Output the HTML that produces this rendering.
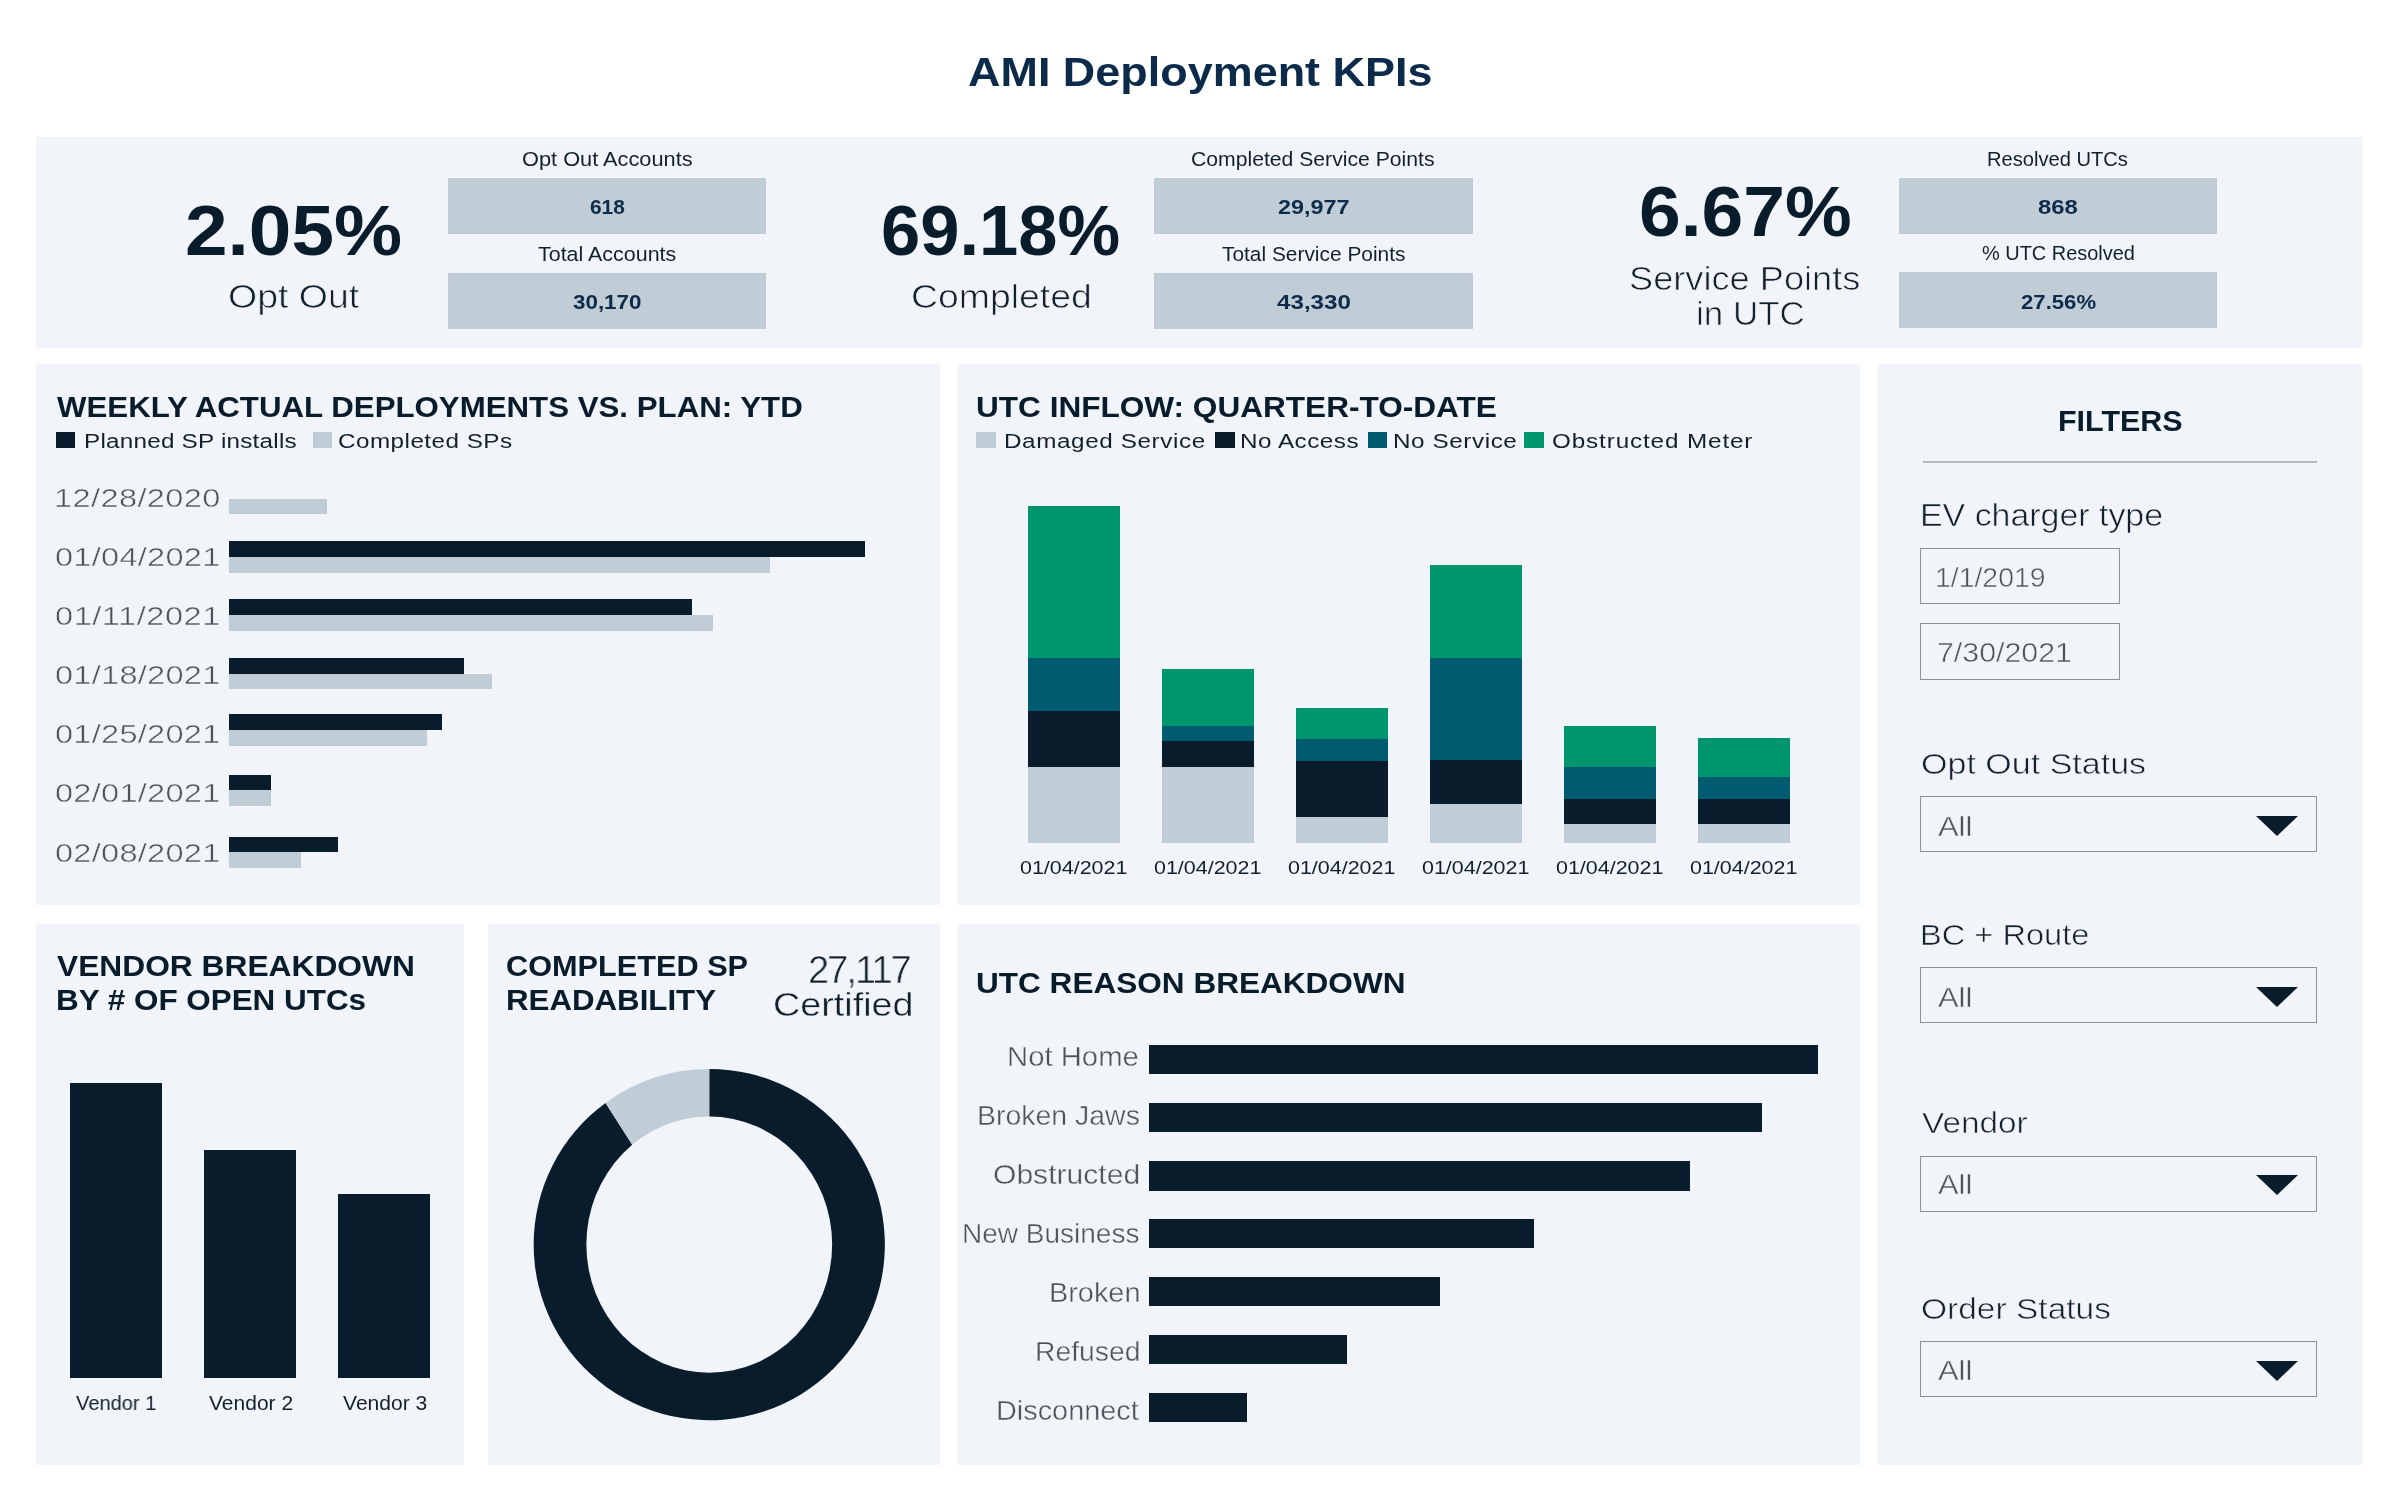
<!DOCTYPE html>
<html lang="en"><head><meta charset="utf-8"><title>AMI Deployment KPIs</title>
<style>
*{margin:0;padding:0;box-sizing:border-box}
html,body{width:2400px;height:1500px;background:#fff;overflow:hidden}
body{position:relative;font-family:"Liberation Sans", Arial, sans-serif;}
.p{position:absolute;background:#f1f4f8;overflow:hidden}
.b{position:absolute;display:block}
.in{border:1.5px solid #8b9399;background:transparent}
.t{position:absolute;white-space:nowrap;line-height:1;transform-origin:0 50%;font-weight:400;will-change:transform}
</style></head>
<body>
<header><h1 class="t" style="left:967.87px;top:53px;font-size:39.86px;color:#0c2a4a;font-weight:700;transform:scaleX(1.1274);">AMI Deployment KPIs</h1></header>
<section class="p" id="kpi" style="left:36px;top:137px;width:2327px;height:211px">
<div class="b" style="left:412px;top:41px;width:318px;height:56px;background:#c0cdd6;"></div>
<div class="b" style="left:412px;top:136px;width:318px;height:56px;background:#c0cdd6;"></div>
<div class="b" style="left:1118px;top:41px;width:319px;height:56px;background:#c0cdd6;"></div>
<div class="b" style="left:1118px;top:136px;width:319px;height:56px;background:#c0cdd6;"></div>
<div class="b" style="left:1863px;top:41px;width:318px;height:56px;background:#c0cdd6;"></div>
<div class="b" style="left:1863px;top:135px;width:318px;height:56px;background:#c0cdd6;"></div>
<span class="t" style="left:148.83px;top:59px;font-size:70.51px;color:#091c2c;font-weight:700;transform:scaleX(1.0855);">2.05%</span>
<span class="t" style="left:191.87px;top:143px;font-size:33.33px;color:#12202d;transform:scaleX(1.125);-webkit-text-stroke:0.7px #f1f4f8;">Opt Out</span>
<span class="t" style="left:485.6px;top:13px;font-size:19.71px;color:#12202d;transform:scaleX(1.1057);">Opt Out Accounts</span>
<span class="t" style="left:554px;top:60px;font-size:20.58px;color:#0d2b4a;font-weight:700;transform:scaleX(1.0148);">618</span>
<span class="t" style="left:502px;top:108px;font-size:19.71px;color:#12202d;transform:scaleX(1.0888);">Total Accounts</span>
<span class="t" style="left:537px;top:155px;font-size:20.58px;color:#0d2b4a;font-weight:700;transform:scaleX(1.0879);">30,170</span>
<span class="t" style="left:845px;top:59px;font-size:70.51px;color:#091c2c;font-weight:700;">69.18%</span>
<span class="t" style="left:874.88px;top:143px;font-size:33.33px;color:#12202d;transform:scaleX(1.122);-webkit-text-stroke:0.7px #f1f4f8;">Completed</span>
<span class="t" style="left:1155.32px;top:13px;font-size:19.71px;color:#12202d;transform:scaleX(1.075);">Completed Service Points</span>
<span class="t" style="left:1242px;top:60px;font-size:20.58px;color:#0d2b4a;font-weight:700;transform:scaleX(1.1358);">29,977</span>
<span class="t" style="left:1186px;top:108px;font-size:19.71px;color:#12202d;transform:scaleX(1.061);">Total Service Points</span>
<span class="t" style="left:1241px;top:155px;font-size:20.58px;color:#0d2b4a;font-weight:700;transform:scaleX(1.1742);">43,330</span>
<span class="t" style="left:1602.86px;top:40px;font-size:70.22px;color:#091c2c;font-weight:700;transform:scaleX(1.0681);">6.67%</span>
<span class="t" style="left:1593.31px;top:125px;font-size:33.33px;color:#12202d;transform:scaleX(1.0863);-webkit-text-stroke:0.7px #f1f4f8;">Service Points</span>
<span class="t" style="left:1659.9px;top:160px;font-size:33.33px;color:#12202d;transform:scaleX(1.0493);-webkit-text-stroke:0.7px #f1f4f8;">in UTC</span>
<span class="t" style="left:1950.98px;top:13px;font-size:19.71px;color:#12202d;transform:scaleX(1.0218);">Resolved UTCs</span>
<span class="t" style="left:2002.4px;top:60px;font-size:20.58px;color:#0d2b4a;font-weight:700;transform:scaleX(1.1564);">868</span>
<span class="t" style="left:1946px;top:107px;font-size:19.71px;color:#12202d;transform:scaleX(1.0131);">% UTC Resolved</span>
<span class="t" style="left:1984.6px;top:155px;font-size:20.58px;color:#0d2b4a;font-weight:700;transform:scaleX(1.0763);">27.56%</span>
</section>
<section class="p" id="weekly" style="left:36px;top:364px;width:904px;height:541px">
<div class="b" style="left:20px;top:68px;width:19px;height:16px;background:#091c2c;"></div>
<div class="b" style="left:277px;top:68px;width:19px;height:16px;background:#c0cdd6;"></div>
<div class="b" style="left:193px;top:135px;width:98px;height:15px;background:#c0cdd6;"></div>
<div class="b" style="left:193px;top:193px;width:541px;height:16px;background:#c0cdd6;"></div>
<div class="b" style="left:193px;top:177px;width:636px;height:16px;background:#091c2c;"></div>
<div class="b" style="left:193px;top:251px;width:484px;height:16px;background:#c0cdd6;"></div>
<div class="b" style="left:193px;top:235px;width:463px;height:16px;background:#091c2c;"></div>
<div class="b" style="left:193px;top:310px;width:263px;height:15px;background:#c0cdd6;"></div>
<div class="b" style="left:193px;top:294px;width:235px;height:16px;background:#091c2c;"></div>
<div class="b" style="left:193px;top:366px;width:198px;height:16px;background:#c0cdd6;"></div>
<div class="b" style="left:193px;top:350px;width:213px;height:16px;background:#091c2c;"></div>
<div class="b" style="left:193px;top:426px;width:42px;height:16px;background:#c0cdd6;"></div>
<div class="b" style="left:193px;top:411px;width:42px;height:15px;background:#091c2c;"></div>
<div class="b" style="left:193px;top:488px;width:72px;height:16px;background:#c0cdd6;"></div>
<div class="b" style="left:193px;top:473px;width:109px;height:15px;background:#091c2c;"></div>
<h2 class="t" style="left:21px;top:28px;font-size:29.57px;color:#091c2c;font-weight:700;transform:scaleX(1.0567);">WEEKLY ACTUAL DEPLOYMENTS VS. PLAN: YTD</h2>
<span class="t" style="left:47.83px;top:67px;font-size:20.72px;color:#12202d;letter-spacing:0.2px;transform:scaleX(1.17);">Planned SP installs</span>
<span class="t" style="left:302.43px;top:67px;font-size:20.72px;color:#12202d;letter-spacing:0.4px;transform:scaleX(1.17);">Completed SPs</span>
<span class="t" style="left:17.56px;top:121px;font-size:26.69px;color:#4d5359;letter-spacing:0.32px;transform:scaleX(1.22);-webkit-text-stroke:0.5px #f1f4f8;">12/28/2020</span>
<span class="t" style="left:18.78px;top:180px;font-size:26.69px;color:#4d5359;letter-spacing:0.21px;transform:scaleX(1.22);-webkit-text-stroke:0.5px #f1f4f8;">01/04/2021</span>
<span class="t" style="left:18.78px;top:239px;font-size:26.69px;color:#4d5359;letter-spacing:0.43px;transform:scaleX(1.22);-webkit-text-stroke:0.5px #f1f4f8;">01/11/2021</span>
<span class="t" style="left:18.78px;top:298px;font-size:26.69px;color:#4d5359;letter-spacing:0.21px;transform:scaleX(1.22);-webkit-text-stroke:0.5px #f1f4f8;">01/18/2021</span>
<span class="t" style="left:18.78px;top:357px;font-size:26.69px;color:#4d5359;letter-spacing:0.21px;transform:scaleX(1.22);-webkit-text-stroke:0.5px #f1f4f8;">01/25/2021</span>
<span class="t" style="left:18.78px;top:416px;font-size:26.69px;color:#4d5359;letter-spacing:0.21px;transform:scaleX(1.22);-webkit-text-stroke:0.5px #f1f4f8;">02/01/2021</span>
<span class="t" style="left:18.78px;top:476px;font-size:26.69px;color:#4d5359;letter-spacing:0.21px;transform:scaleX(1.22);-webkit-text-stroke:0.5px #f1f4f8;">02/08/2021</span>
</section>
<section class="p" id="inflow" style="left:957px;top:364px;width:903px;height:541px">
<div class="b" style="left:19px;top:68px;width:20px;height:16px;background:#c0cdd6;"></div>
<div class="b" style="left:258px;top:68px;width:20px;height:16px;background:#091c2c;"></div>
<div class="b" style="left:411px;top:68px;width:19px;height:16px;background:#005b70;"></div>
<div class="b" style="left:567px;top:68px;width:20px;height:16px;background:#00966d;"></div>
<div class="b" style="left:71px;top:142px;width:92px;height:152px;background:#00966d;"></div>
<div class="b" style="left:71px;top:294px;width:92px;height:53px;background:#005b70;"></div>
<div class="b" style="left:71px;top:347px;width:92px;height:56px;background:#091c2c;"></div>
<div class="b" style="left:71px;top:403px;width:92px;height:76px;background:#c0cdd6;"></div>
<div class="b" style="left:205px;top:305px;width:92px;height:57px;background:#00966d;"></div>
<div class="b" style="left:205px;top:362px;width:92px;height:15px;background:#005b70;"></div>
<div class="b" style="left:205px;top:377px;width:92px;height:26px;background:#091c2c;"></div>
<div class="b" style="left:205px;top:403px;width:92px;height:76px;background:#c0cdd6;"></div>
<div class="b" style="left:339px;top:344px;width:92px;height:31px;background:#00966d;"></div>
<div class="b" style="left:339px;top:375px;width:92px;height:22px;background:#005b70;"></div>
<div class="b" style="left:339px;top:397px;width:92px;height:56px;background:#091c2c;"></div>
<div class="b" style="left:339px;top:453px;width:92px;height:26px;background:#c0cdd6;"></div>
<div class="b" style="left:473px;top:201px;width:92px;height:93px;background:#00966d;"></div>
<div class="b" style="left:473px;top:294px;width:92px;height:102px;background:#005b70;"></div>
<div class="b" style="left:473px;top:396px;width:92px;height:44px;background:#091c2c;"></div>
<div class="b" style="left:473px;top:440px;width:92px;height:39px;background:#c0cdd6;"></div>
<div class="b" style="left:607px;top:362px;width:92px;height:41px;background:#00966d;"></div>
<div class="b" style="left:607px;top:403px;width:92px;height:32px;background:#005b70;"></div>
<div class="b" style="left:607px;top:435px;width:92px;height:25px;background:#091c2c;"></div>
<div class="b" style="left:607px;top:460px;width:92px;height:19px;background:#c0cdd6;"></div>
<div class="b" style="left:741px;top:374px;width:92px;height:39px;background:#00966d;"></div>
<div class="b" style="left:741px;top:413px;width:92px;height:22px;background:#005b70;"></div>
<div class="b" style="left:741px;top:435px;width:92px;height:25px;background:#091c2c;"></div>
<div class="b" style="left:741px;top:460px;width:92px;height:19px;background:#c0cdd6;"></div>
<h2 class="t" style="left:18.93px;top:28px;font-size:29.57px;color:#091c2c;font-weight:700;transform:scaleX(1.0679);">UTC INFLOW: QUARTER-TO-DATE</h2>
<span class="t" style="left:46.83px;top:67px;font-size:20.72px;color:#12202d;letter-spacing:0.52px;transform:scaleX(1.17);">Damaged Service</span>
<span class="t" style="left:282.83px;top:67px;font-size:20.72px;color:#12202d;letter-spacing:0.43px;transform:scaleX(1.17);">No Access</span>
<span class="t" style="left:435.83px;top:67px;font-size:20.72px;color:#12202d;letter-spacing:0.5px;transform:scaleX(1.17);">No Service</span>
<span class="t" style="left:595.4px;top:67px;font-size:20.72px;color:#12202d;letter-spacing:0.75px;transform:scaleX(1.17);">Obstructed Meter</span>
<span class="t" style="left:63.3px;top:494px;font-size:19.24px;color:#12202d;transform:scaleX(1.1152);">01/04/2021</span>
<span class="t" style="left:197.3px;top:494px;font-size:19.24px;color:#12202d;transform:scaleX(1.1152);">01/04/2021</span>
<span class="t" style="left:331.3px;top:494px;font-size:19.24px;color:#12202d;transform:scaleX(1.1152);">01/04/2021</span>
<span class="t" style="left:465.3px;top:494px;font-size:19.24px;color:#12202d;transform:scaleX(1.1152);">01/04/2021</span>
<span class="t" style="left:599.3px;top:494px;font-size:19.24px;color:#12202d;transform:scaleX(1.1152);">01/04/2021</span>
<span class="t" style="left:733.3px;top:494px;font-size:19.24px;color:#12202d;transform:scaleX(1.1152);">01/04/2021</span>
</section>
<section class="p" id="filters" style="left:1877px;top:364px;width:486px;height:1101px">
<div class="b" style="left:46px;top:97px;width:394px;height:2px;background:#b3bac0;"></div>
<div class="b in" style="left:43px;top:184px;width:200px;height:56px"></div>
<div class="b in" style="left:43px;top:259px;width:200px;height:57px"></div>
<div class="b in" style="left:43px;top:432px;width:397px;height:56px"></div>
<svg class="b" style="left:379px;top:452.4px" width="42" height="20" viewBox="0 0 42 20"><path d="M0 0H42L21 20Z" fill="#091c2c"/></svg>
<div class="b in" style="left:43px;top:603px;width:397px;height:56px"></div>
<svg class="b" style="left:379px;top:622.8px" width="42" height="20" viewBox="0 0 42 20"><path d="M0 0H42L21 20Z" fill="#091c2c"/></svg>
<div class="b in" style="left:43px;top:792px;width:397px;height:56px"></div>
<svg class="b" style="left:379px;top:810.8px" width="42" height="20" viewBox="0 0 42 20"><path d="M0 0H42L21 20Z" fill="#091c2c"/></svg>
<div class="b in" style="left:43px;top:977px;width:397px;height:56px"></div>
<svg class="b" style="left:379px;top:997.0px" width="42" height="20" viewBox="0 0 42 20"><path d="M0 0H42L21 20Z" fill="#091c2c"/></svg>
<h2 class="t" style="left:180.77px;top:42px;font-size:29.57px;color:#091c2c;font-weight:700;transform:scaleX(1.0305);">FILTERS</h2>
<span class="t" style="left:43.37px;top:136px;font-size:30.43px;color:#12202d;transform:scaleX(1.1142);-webkit-text-stroke:0.6px #f1f4f8;">EV charger type</span>
<span class="t" style="left:58.21px;top:200px;font-size:27.11px;color:#4d5359;transform:scaleX(1.0473);-webkit-text-stroke:0.5px #f1f4f8;">1/1/2019</span>
<span class="t" style="left:59.88px;top:275px;font-size:27.11px;color:#4d5359;transform:scaleX(1.1187);-webkit-text-stroke:0.5px #f1f4f8;">7/30/2021</span>
<span class="t" style="left:43.87px;top:385px;font-size:30.14px;color:#12202d;transform:scaleX(1.1298);-webkit-text-stroke:0.6px #f1f4f8;">Opt Out Status</span>
<span class="t" style="left:42.84px;top:556px;font-size:30.14px;color:#12202d;transform:scaleX(1.0818);-webkit-text-stroke:0.6px #f1f4f8;">BC + Route</span>
<span class="t" style="left:44.8px;top:744px;font-size:30.14px;color:#12202d;transform:scaleX(1.1063);-webkit-text-stroke:0.6px #f1f4f8;">Vendor</span>
<span class="t" style="left:43.69px;top:930px;font-size:30.14px;color:#12202d;transform:scaleX(1.1125);-webkit-text-stroke:0.6px #f1f4f8;">Order Status</span>
<span class="t" style="left:61.4px;top:448px;font-size:28.41px;color:#4d5359;transform:scaleX(1.087);-webkit-text-stroke:0.4px #f1f4f8;">All</span>
<span class="t" style="left:61.4px;top:619px;font-size:28.41px;color:#4d5359;transform:scaleX(1.087);-webkit-text-stroke:0.4px #f1f4f8;">All</span>
<span class="t" style="left:61.4px;top:806px;font-size:28.41px;color:#4d5359;transform:scaleX(1.087);-webkit-text-stroke:0.4px #f1f4f8;">All</span>
<span class="t" style="left:61.4px;top:992px;font-size:28.41px;color:#4d5359;transform:scaleX(1.087);-webkit-text-stroke:0.4px #f1f4f8;">All</span>
</section>
<section class="p" id="vendor" style="left:36px;top:924px;width:428px;height:541px">
<div class="b" style="left:34px;top:159px;width:92px;height:295px;background:#091c2c;"></div>
<div class="b" style="left:168px;top:226px;width:92px;height:228px;background:#091c2c;"></div>
<div class="b" style="left:302px;top:270px;width:92px;height:184px;background:#091c2c;"></div>
<h2 class="t" style="left:21.4px;top:27px;font-size:29.42px;color:#091c2c;font-weight:700;transform:scaleX(1.0793);">VENDOR BREAKDOWN</h2>
<h2 class="t" style="left:20.33px;top:61px;font-size:29.42px;color:#091c2c;font-weight:700;transform:scaleX(1.0679);">BY # OF OPEN UTCs</h2>
<span class="t" style="left:40.4px;top:469px;font-size:20.29px;color:#12202d;transform:scaleX(0.9886);">Vendor 1</span>
<span class="t" style="left:172.6px;top:469px;font-size:20.29px;color:#12202d;transform:scaleX(1.0355);">Vendor 2</span>
<span class="t" style="left:306.6px;top:469px;font-size:20.29px;color:#12202d;transform:scaleX(1.038);">Vendor 3</span>
</section>
<section class="p" id="donut" style="left:488px;top:924px;width:452px;height:541px">
<svg class="b" style="left:0;top:0" width="452" height="541" viewBox="488 924 452 541"><path d="M709.25 1069.0 A175.6 175.6 0 1 1 605.54 1102.90 L653.17 1177.60 L709.25 1204.6 Z" fill="#091c2c"/><path d="M605.54 1102.90 A175.6 175.6 0 0 1 709.25 1069.0 L709.25 1204.6 L653.17 1177.60 Z" fill="#c0cdd6"/><ellipse cx="709.25" cy="1244.6" rx="122.9" ry="128.1" fill="#f1f4f8"/></svg>
<h2 class="t" style="left:17.56px;top:27px;font-size:29.42px;color:#091c2c;font-weight:700;transform:scaleX(1.0434);">COMPLETED SP</h2>
<h2 class="t" style="left:17.54px;top:61px;font-size:29.42px;color:#091c2c;font-weight:700;transform:scaleX(1.0625);">READABILITY</h2>
<span class="t" style="left:320.03px;top:26px;font-size:39.33px;color:#12202d;letter-spacing:-2.08px;transform:scaleX(0.97);-webkit-text-stroke:0.6px #f1f4f8;">27,117</span>
<span class="t" style="left:284.84px;top:65px;font-size:32.46px;color:#12202d;transform:scaleX(1.163);-webkit-text-stroke:0.4px #f1f4f8;">Certified</span>
</section>
<section class="p" id="reason" style="left:957px;top:924px;width:903px;height:541px">
<div class="b" style="left:192px;top:121px;width:669px;height:29px;background:#091c2c;"></div>
<div class="b" style="left:192px;top:179px;width:613px;height:29px;background:#091c2c;"></div>
<div class="b" style="left:192px;top:237px;width:541px;height:30px;background:#091c2c;"></div>
<div class="b" style="left:192px;top:295px;width:385px;height:29px;background:#091c2c;"></div>
<div class="b" style="left:192px;top:353px;width:291px;height:29px;background:#091c2c;"></div>
<div class="b" style="left:192px;top:411px;width:198px;height:29px;background:#091c2c;"></div>
<div class="b" style="left:192px;top:469px;width:98px;height:29px;background:#091c2c;"></div>
<h2 class="t" style="left:18.93px;top:44px;font-size:29.57px;color:#091c2c;font-weight:700;transform:scaleX(1.0674);">UTC REASON BREAKDOWN</h2>
<span class="t" style="left:50.47px;top:119px;font-size:27.54px;color:#4d5359;transform:scaleX(1.0639);-webkit-text-stroke:0.4px #f1f4f8;">Not Home</span>
<span class="t" style="left:19.93px;top:178px;font-size:27.54px;color:#4d5359;transform:scaleX(1.0333);-webkit-text-stroke:0.4px #f1f4f8;">Broken Jaws</span>
<span class="t" style="left:36.31px;top:237px;font-size:27.54px;color:#4d5359;transform:scaleX(1.0925);-webkit-text-stroke:0.4px #f1f4f8;">Obstructed</span>
<span class="t" style="left:5.37px;top:296px;font-size:27.54px;color:#4d5359;transform:scaleX(1.0171);-webkit-text-stroke:0.4px #f1f4f8;">New Business</span>
<span class="t" style="left:91.9px;top:355px;font-size:27.54px;color:#4d5359;transform:scaleX(1.0486);-webkit-text-stroke:0.4px #f1f4f8;">Broken</span>
<span class="t" style="left:77.94px;top:414px;font-size:27.54px;color:#4d5359;transform:scaleX(1.0279);-webkit-text-stroke:0.4px #f1f4f8;">Refused</span>
<span class="t" style="left:38.9px;top:473px;font-size:27.54px;color:#4d5359;transform:scaleX(1.0479);-webkit-text-stroke:0.4px #f1f4f8;">Disconnect</span>
</section>
</body></html>
